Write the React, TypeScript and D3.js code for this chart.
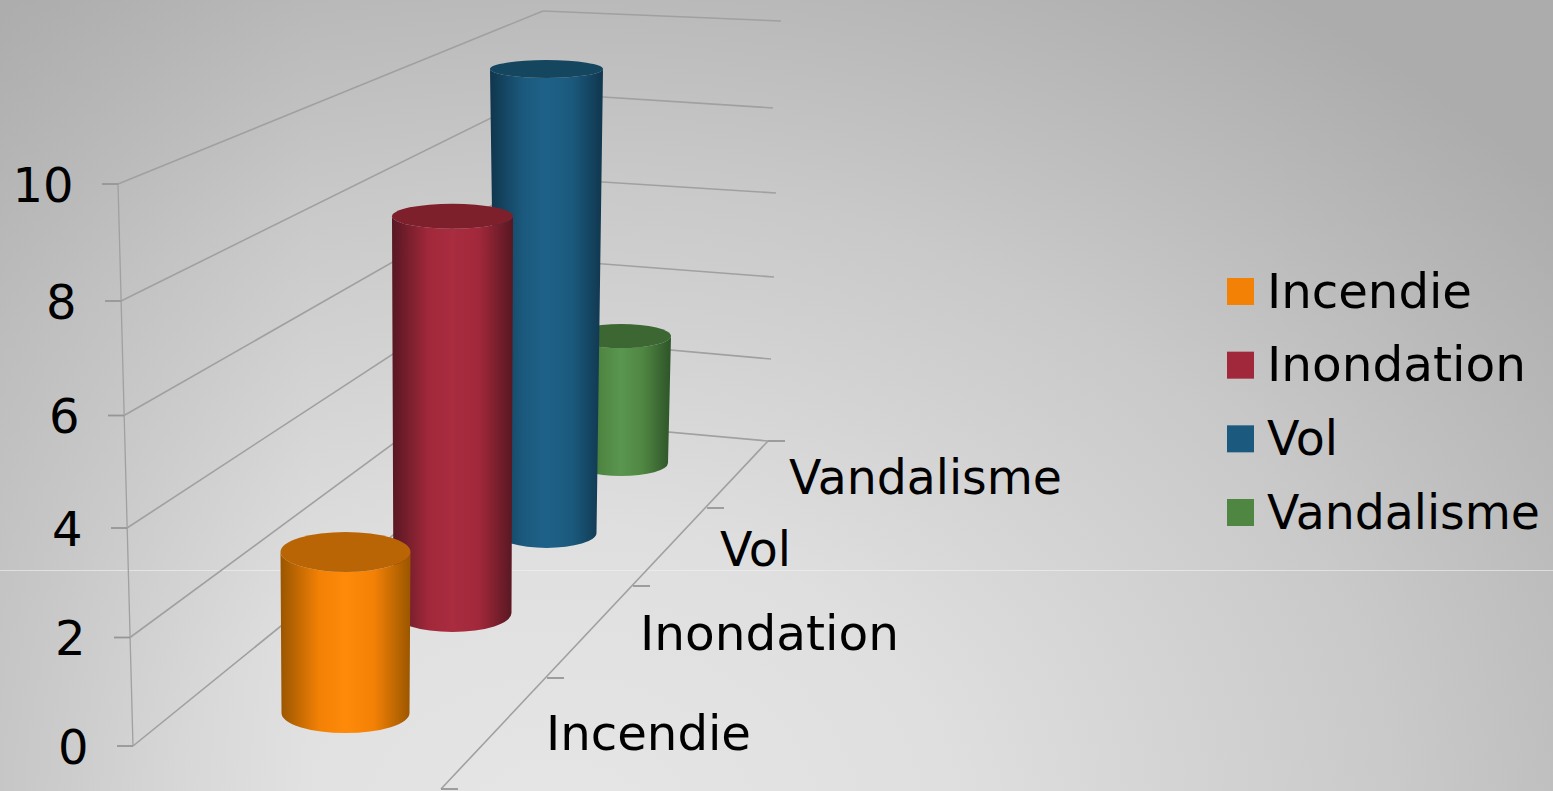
import React from "react";
import * as d3 from "d3";

const categories = ["Incendie", "Inondation", "Vol", "Vandalisme"];
const seriesValues = [3, 8, 10, 3];
const seriesBase = ["#f38105", "#a1283a", "#1b5a7e", "#4f8642"];
const seriesTop = ["#b96505", "#7e1f2c", "#14465f", "#3c6632"];
const seriesEdge = ["#9a5600", "#571722", "#10364d", "#2e5428"];
const seriesMid = ["#ff8a0a", "#a92c3f", "#1e6188", "#5a9650"];
const valueTicks = [0, 2, 4, 6, 8, 10];

const W = 1553, H = 791;

// perspective projection, expressed as scales
const axisY = d3.scaleLinear().domain(valueTicks).range([746, 637.5, 528, 415.5, 301, 184]);
const axisX = d3.scaleLinear().domain([0, 10]).range([133, 118]);
const cornerY = d3.scaleLinear().domain(valueTicks).range([420, 338, 259, 178, 93, 11]);
const cornerX = d3.scaleLinear().domain([0, 10]).range([535, 543]);
const backY = d3.scaleLinear().domain(valueTicks).range([441, 359, 277, 193, 108, 21]);
const backX = d3.scaleLinear().domain(valueTicks).range([768, 771, 774, 776, 773, 781]);

const depths = [0, 1, 2, 3];
const centerX = d3.scaleLinear().domain(depths).range([345.5, 452.5, 546.5, 621]);
const baseY = d3.scaleLinear().domain(depths).range([713, 613, 533, 463]);
const unit = d3.scaleLinear().domain(depths).range([53.7, 49.6, 46.4, 42.3]);
const halfTop = d3.scaleLinear().domain(depths).range([65, 60.5, 56.5, 50]);
const halfBase = d3.scaleLinear().domain(depths).range([64, 59, 50, 47]);
const ryBase = d3.scaleLinear().domain(depths).range([20, 19, 15, 13]);
const ryTop = d3.scaleLinear().domain(depths).range([20, 12.5, 9, 12]);

const edgeBound = [0, 1, 2, 3, 4];
const floorX = d3.scaleLinear().domain(edgeBound).range([441, 547, 633, 707, 768]);
const floorY = d3.scaleLinear().domain(edgeBound).range([789, 678, 586, 508, 441]);

const catLabelX = d3.scaleLinear().domain(depths).range([546, 640, 720, 789]);
const catLabelY = d3.scaleLinear().domain(depths).range([750, 650, 566, 494]);
const labelWidth = d3.scaleOrdinal<string, number>().domain(categories).range([205, 259, 71, 273]);

const legendRow = d3.scaleLinear().domain([0, 3]).range([278, 499]);

const FONT = "'DejaVu Sans', sans-serif";
const LINE = "#a0a0a0";
const TICK = "#969696";

function cylinderSide(i: number, v: number) {
  const cx = centerX(i), top = baseY(i) - v * unit(i), bot = baseY(i);
  const ht = halfTop(i), hb = halfBase(i), rb = ryBase(i), rt = ryTop(i);
  return `M${cx - ht},${top} L${cx - hb},${bot} A${hb},${rb} 0 0 0 ${cx + hb},${bot} L${cx + ht},${top} A${ht},${rt} 0 0 1 ${cx - ht},${top} Z`;
}

export default function App() {
  return (
    <svg width={W} height={H} viewBox={`0 0 ${W} ${H}`} style={{ position: "absolute", left: 0, top: 0, display: "block" }}>
      <defs>
        <radialGradient id="bg" gradientUnits="userSpaceOnUse" cx={0} cy={0} r={1000}
          gradientTransform="translate(560,830) scale(1.3,1)">
          <stop offset="0" stopColor="#e6e6e6" />
          <stop offset="0.3" stopColor="#dfdfdf" />
          <stop offset="0.65" stopColor="#c9c9c9" />
          <stop offset="1" stopColor="#acacac" />
        </radialGradient>
        <linearGradient id="bgLeft" x1="0" x2="1" y1="0" y2="0">
          <stop offset="0" stopColor="#a0a0a0" stopOpacity="0.3" />
          <stop offset="0.2" stopColor="#a0a0a0" stopOpacity="0" />
        </linearGradient>
        {categories.map((c, i) => (
          <linearGradient key={c} id={`side${i}`} x1="0" x2="1" y1="0" y2="0">
            <stop offset="0" stopColor={seriesEdge[i]} />
            <stop offset="0.3" stopColor={seriesBase[i]} />
            <stop offset="0.5" stopColor={seriesMid[i]} />
            <stop offset="0.72" stopColor={seriesBase[i]} />
            <stop offset="1" stopColor={seriesEdge[i]} />
          </linearGradient>
        ))}
      </defs>
      <rect width={W} height={H} fill="url(#bg)" />
      <rect width={W} height={H} fill="url(#bgLeft)" />
      <line x1={0} x2={W} y1={570.5} y2={570.5} stroke="#f2f2f2" strokeOpacity={0.6} strokeWidth={1} />

      {/* walls */}
      <g fill="none" stroke={LINE} strokeWidth={1.6}>
        {valueTicks.map((t) => (
          <g key={t}>
            <line x1={axisX(t)} y1={axisY(t)} x2={cornerX(t)} y2={cornerY(t)} />
            <line x1={cornerX(t)} y1={cornerY(t)} x2={backX(t)} y2={backY(t)} />
          </g>
        ))}
        <line x1={axisX(10)} y1={axisY(10)} x2={axisX(0)} y2={axisY(0)} strokeWidth={1.3} />
        <line x1={floorX(4)} y1={floorY(4)} x2={floorX(0)} y2={floorY(0)} />
      </g>
      <g stroke={TICK} strokeWidth={1.8}>
        {valueTicks.map((t) => (
          <line key={t} x1={axisX(t) - 16} x2={axisX(t)} y1={axisY(t)} y2={axisY(t)} />
        ))}
        {edgeBound.map((b) => (
          <line key={b} x1={floorX(b)} x2={floorX(b) + 17} y1={floorY(b)} y2={floorY(b)} />
        ))}
      </g>

      {/* cylinders, back to front */}
      {[3, 2, 1, 0].map((i) => {
        const v = seriesValues[i];
        return (
          <g key={categories[i]}>
            <path d={cylinderSide(i, v)} fill={`url(#side${i})`} />
            <ellipse cx={centerX(i)} cy={baseY(i) - v * unit(i)} rx={halfTop(i)} ry={ryTop(i)} fill={seriesTop[i]} />
          </g>
        );
      })}

      {/* labels */}
      <g fontFamily={FONT} fontSize={48} fill="#000">
        {valueTicks.map((t) => (
          <text key={t} x={axisX(t) - 44.5} y={axisY(t) + 17.5} textAnchor="end">{t}</text>
        ))}
        {categories.map((c, i) => (
          <text key={c} x={catLabelX(i)} y={catLabelY(i)} textLength={labelWidth(c)} lengthAdjust="spacingAndGlyphs">{c}</text>
        ))}
        {categories.map((c, i) => (
          <g key={c}>
            <rect x={1227} y={legendRow(i)} width={27} height={27} fill={seriesBase[i]} />
            <text x={1267} y={legendRow(i) + 29.5} textLength={labelWidth(c)} lengthAdjust="spacingAndGlyphs">{c}</text>
          </g>
        ))}
      </g>
    </svg>
  );
}
